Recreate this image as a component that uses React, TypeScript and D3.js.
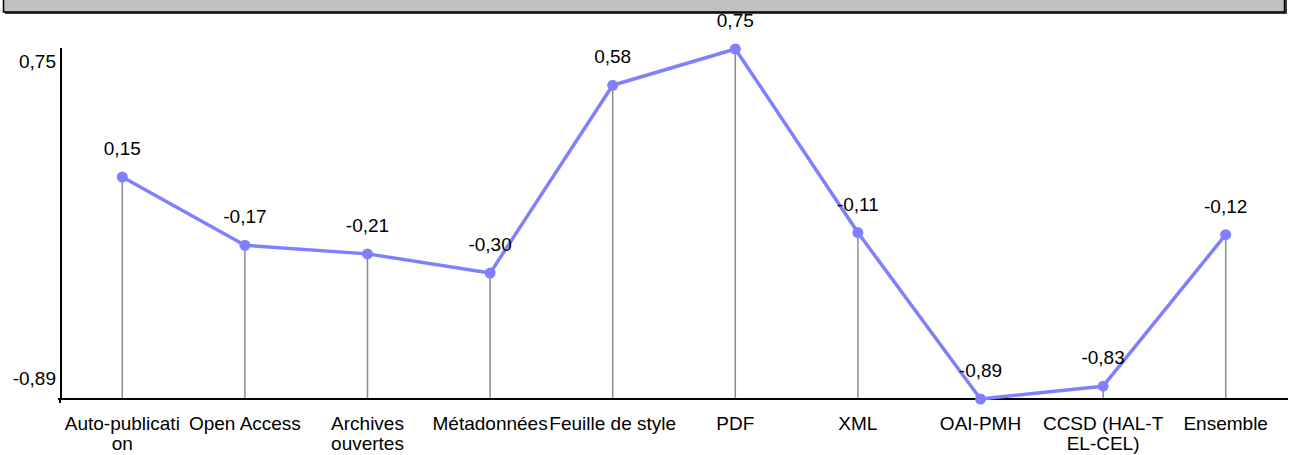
import React from "react";
import * as d3 from "d3";

const categories: string[][] = [
  ["Auto-publicati", "on"],
  ["Open Access"],
  ["Archives", "ouvertes"],
  ["Métadonnées"],
  ["Feuille de style"],
  ["PDF"],
  ["XML"],
  ["OAI-PMH"],
  ["CCSD (HAL-T", "EL-CEL)"],
  ["Ensemble"],
];
const values: number[] = [0.15, -0.17, -0.21, -0.3, 0.58, 0.75, -0.11, -0.89, -0.83, -0.12];
const yTicks: number[] = [0.75, -0.89];

const W = 1295;
const H = 455;
const FONT = "'Liberation Sans', Arial, Helvetica, sans-serif";
const FS = 19;
const fmt = (v: number) => v.toFixed(2).replace(".", ",");

export default function App() {
  const keys = categories.map((c) => c.join(""));
  const x = d3.scalePoint<string>().domain(keys).range([61, 1287]).padding(0.5);
  const y = d3.scaleLinear().domain([-0.89, 0.75]).range([399, 49]);
  const line = d3
    .line<number>()
    .x((_, i) => x(keys[i]) as number)
    .y((d) => y(d));

  return (
    <svg
      width={W}
      height={H}
      style={{ position: "absolute", left: 0, top: 0, background: "#fff" }}
      fontFamily={FONT}
    >
      {/* top bar */}
      <rect x={5} y={-4} width={1282} height={18} fill="#404040" />
      <rect x={3.5} y={-4} width={1281} height={16} fill="#c0c0c0" stroke="#000" strokeWidth={1.5} />

      {/* drop lines */}
      {values.map((v, i) => (
        <line
          key={"d" + i}
          x1={x(keys[i])}
          x2={x(keys[i])}
          y1={y(v)}
          y2={y(-0.89)}
          stroke="#8c8c8c"
          strokeWidth={1.5}
        />
      ))}

      {/* axes */}
      <line x1={61} x2={61} y1={48} y2={400} stroke="#000" strokeWidth={2} />
      <line x1={58} x2={1288} y1={399} y2={399} stroke="#000" strokeWidth={2} />
      <line x1={60} x2={60} y1={399} y2={403} stroke="#000" strokeWidth={2} />

      {/* y tick labels */}
      {yTicks.map((t, i) => (
        <text
          key={"t" + i}
          x={56}
          y={i === 0 ? y(t) + 19 : y(t) - 14}
          textAnchor="end"
          fontSize={FS}
          fill="#000"
        >
          {fmt(t)}
        </text>
      ))}

      {/* line */}
      <path d={line(values) || ""} fill="none" stroke="#8080ff" strokeWidth={3.5} strokeLinejoin="round" />
      {values.map((v, i) => (
        <circle key={"c" + i} cx={x(keys[i])} cy={y(v)} r={5.5} fill="#8080ff" />
      ))}

      {/* value labels */}
      {values.map((v, i) => (
        <text
          key={"v" + i}
          x={x(keys[i])}
          y={y(v) - 22}
          textAnchor="middle"
          fontSize={FS}
          fill="#000"
        >
          {fmt(v)}
        </text>
      ))}

      {/* x labels */}
      {categories.map((c, i) =>
        c.map((ln, j) => (
          <text
            key={"x" + i + "_" + j}
            x={x(keys[i])}
            y={430 + j * 20}
            textAnchor="middle"
            fontSize={FS}
            fill="#000"
          >
            {ln}
          </text>
        ))
      )}
    </svg>
  );
}
